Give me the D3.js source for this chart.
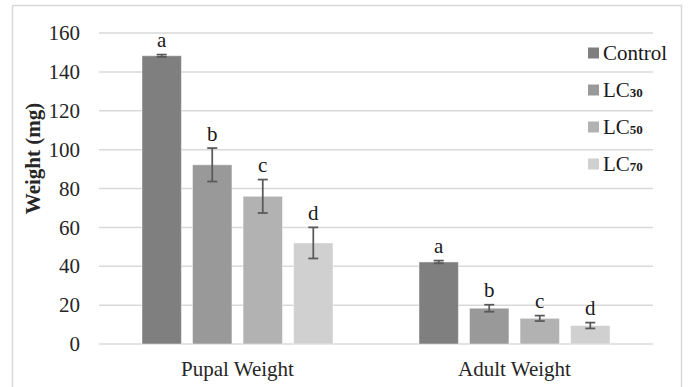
<!DOCTYPE html>
<html>
<head>
<meta charset="utf-8">
<script src="https://cdn.jsdelivr.net/npm/d3@7"></script>
</head>
<body style="margin:0">
<svg id="chart" width="688" height="387"></svg>
<script>
// ---- data ----
const groups = ["Pupal Weight", "Adult Weight"];
const series = ["Control", "LC30", "LC50", "LC70"];
const seriesSub = ["", "30", "50", "70"];
const pupalValues = [148.3, 92.2, 76.0, 52.0];
const pupalErrors = [0.6, 8.6, 8.6, 8.0];
const adultValues = [42.2, 18.4, 13.2, 9.5];
const adultErrors = [0.7, 1.8, 1.4, 1.5];
const pupalLetters = ["a", "b", "c", "d"];
const adultLetters = ["a", "b", "c", "d"];
const yTicks = [0, 20, 40, 60, 80, 100, 120, 140, 160];
const colors = ["#7f7f7f", "#999999", "#b2b2b2", "#d0d0d0"];

const values = [pupalValues, adultValues];
const errors = [pupalErrors, adultErrors];
const letters = [pupalLetters, adultLetters];

const FONT = "'Liberation Serif', 'Times New Roman', serif";
const FS = 21;
const svg = d3.select("#chart");

function txt(sel, size, weight) {
  return sel.style("font-family", FONT).style("font-size", size + "px")
    .style("font-weight", weight || "normal");
}

// outer frame
svg.append("rect")
  .attr("x", 12.5).attr("y", 5.5)
  .attr("width", 669).attr("height", 400)
  .attr("fill", "none").attr("stroke", "#d9d9d9").attr("stroke-width", 1.5);

const plot = { left: 99, right: 653, top: 33, bottom: 344 };

const y = d3.scaleLinear().domain([0, 160]).range([plot.bottom, plot.top]);
const x0 = d3.scaleBand().domain(groups).range([plot.left, plot.right]).padding(0);
const x1 = d3.scaleBand().domain(series)
  .range([43, x0.bandwidth() - 43]).paddingInner(0.22).paddingOuter(0);

// gridlines
svg.append("g").selectAll("line").data(yTicks).join("line")
  .attr("x1", plot.left).attr("x2", plot.right)
  .attr("y1", d => y(d)).attr("y2", d => y(d))
  .attr("stroke", "#d9d9d9").attr("stroke-width", 1.5);

// y axis labels
const yAxis = d3.axisLeft(y).tickValues(yTicks).tickSize(0).tickPadding(0);
const yg = svg.append("g").attr("transform", `translate(80,0)`).call(yAxis);
yg.attr("font-family", null).attr("font-size", null);
yg.select(".domain").remove();
txt(yg.selectAll("text"), FS).attr("fill", "#262626");

// y title
txt(svg.append("text"), FS, "bold")
  .attr("transform", `translate(40,158.5) rotate(-90)`)
  .attr("text-anchor", "middle")
  .attr("fill", "#262626")
  .text("Weight (mg)");

// bars
const gGroups = svg.append("g").selectAll("g").data(groups).join("g")
  .attr("transform", d => `translate(${x0(d)},0)`);

gGroups.each(function (g, gi) {
  const sel = d3.select(this);
  const data = series.map((s, i) => ({ s, i, v: values[gi][i], e: errors[gi][i], l: letters[gi][i] }));
  sel.selectAll("rect").data(data).join("rect")
    .attr("x", d => x1(d.s)).attr("width", x1.bandwidth())
    .attr("y", d => y(d.v)).attr("height", d => y(0) - y(d.v))
    .attr("fill", d => colors[d.i])
    .attr("stroke", "rgba(255,255,255,0.45)").attr("stroke-width", 1);

  const cx = d => x1(d.s) + x1.bandwidth() / 2;
  const cap = 5;
  const eb = sel.append("g").attr("stroke", "#595959").attr("stroke-width", 1.75);
  eb.selectAll("line.v").data(data).join("line").attr("class", "v")
    .attr("x1", cx).attr("x2", cx)
    .attr("y1", d => y(d.v + d.e)).attr("y2", d => y(d.v - d.e));
  eb.selectAll("line.t").data(data).join("line").attr("class", "t")
    .attr("x1", d => cx(d) - cap).attr("x2", d => cx(d) + cap)
    .attr("y1", d => y(d.v + d.e)).attr("y2", d => y(d.v + d.e));
  eb.selectAll("line.b").data(data).join("line").attr("class", "b")
    .attr("x1", d => cx(d) - cap).attr("x2", d => cx(d) + cap)
    .attr("y1", d => y(d.v - d.e)).attr("y2", d => y(d.v - d.e));

  txt(sel.selectAll("text.lt").data(data).join("text").attr("class", "lt"), FS)
    .attr("x", cx).attr("y", d => y(d.v + d.e) - 7.5)
    .attr("text-anchor", "middle")
    .attr("fill", "#1a1a1a")
    .text(d => d.l);
});

// x axis labels
txt(svg.append("g").selectAll("text").data(groups).join("text"), FS)
  .attr("x", d => x0(d) + x0.bandwidth() / 2).attr("y", 376)
  .attr("text-anchor", "middle")
  .attr("fill", "#262626")
  .text(d => d);

// legend
const leg = svg.append("g").selectAll("g").data(series).join("g")
  .attr("transform", (d, i) => `translate(588,${53 + i * 37})`);
leg.append("rect")
  .attr("x", 0).attr("y", -5.5).attr("width", 11).attr("height", 11)
  .attr("fill", (d, i) => colors[i]);
leg.each(function (d, i) {
  const t = txt(d3.select(this).append("text"), FS)
    .attr("x", 15).attr("y", 7)
    .attr("fill", "#1a1a1a");
  if (seriesSub[i]) {
    t.append("tspan").text(d.replace(seriesSub[i], ""));
    t.append("tspan").style("font-size", "13px").style("font-weight", "bold").text(seriesSub[i]);
  } else {
    t.text(d);
  }
});
</script>
</body>
</html>
